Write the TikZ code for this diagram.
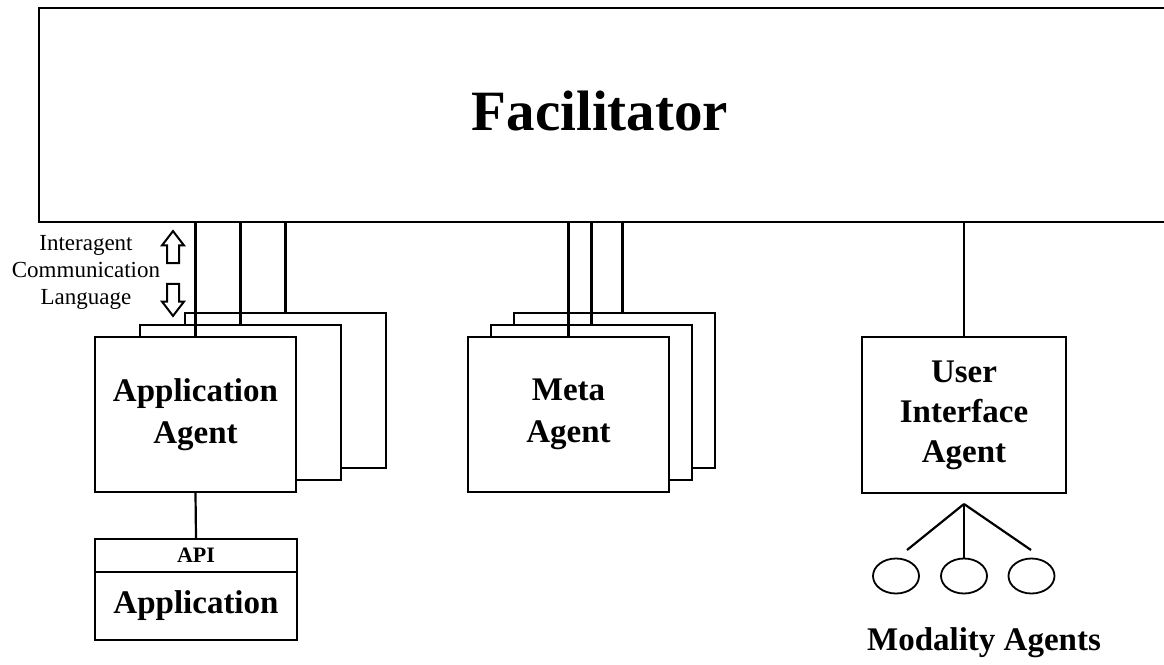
\documentclass[tikz,border=0pt]{standalone}
\usepackage{fontspec}
\setmainfont{Liberation Serif}
\usepackage{tikz}
\usetikzlibrary{shapes,shapes.arrows,backgrounds,positioning}

\tikzset{
agentbox/.style={draw, line width=2.2pt, fill=white, minimum width=201pt, minimum height=155pt, inner sep=0pt, align=center, font=\bfseries\fontsize{33}{42}\selectfont},
appbox/.style={draw, line width=2.2pt, fill=white, minimum width=202pt, inner sep=0pt},
link/.style={draw, line width=2.2pt},
modality/.style={draw, ellipse, line width=1.8pt, minimum width=46pt, minimum height=35pt, inner sep=0pt},
iclarrow/.style={draw, single arrow, line width=2pt, minimum height=32pt, inner xsep=0pt, inner ysep=5pt, single arrow head extend=5pt, single arrow tip angle=75}
}

\begin{document}
\begin{tikzpicture}[x=1pt,y=-1pt]
\useasboundingbox (0,0) rectangle (1164,664);
\node[draw, line width=2.2pt, minimum width=1150pt, minimum height=214pt, anchor=north west, inner sep=0pt] (fac) at (38,7) {};
\node[anchor=base, font=\bfseries\fontsize{57}{60}\selectfont] (factext) at (600,130) {Facilitator};
\node[align=center, inner sep=0pt, font=\fontsize{23}{27}\selectfont] (icl) at (86,272) {Interagent\\Communication\\Language};
\node[iclarrow, rotate=90] (up) at (173,251) {};
\node[iclarrow, rotate=-90] (down) at (173,296) {};
\node[agentbox] (appC) at (285.5,390.5) {};
\node[agentbox] (appB) at (240.5,402.5) {};
\node[agentbox] (appA) at (195.5,414.5) {Application\\Agent};
\node[agentbox] (metaC) at (614.5,390.5) {};
\node[agentbox] (metaB) at (591.5,402.5) {};
\node[agentbox] (metaA) at (568.5,414.5) {Meta\\Agent};
\node[agentbox, minimum width=204pt, minimum height=156pt, font=\bfseries\fontsize{33}{40}\selectfont] (ui) at (964,415) {User\\Interface\\Agent};
\node[appbox, minimum height=33pt, font=\bfseries\fontsize{22}{24}\selectfont] (api) at (196,555.5) {API};
\node[appbox, minimum height=68pt, font=\bfseries\fontsize{33}{36}\selectfont] (appl) at (196,606) {Application};
\path [link] (appA.north |- fac.south) -- (appA.north);
\path [link] (appB.north |- fac.south) -- (appB.north);
\path [link] (appC.north |- fac.south) -- (appC.north);
\path [link] (metaA.north |- fac.south) -- (metaA.north);
\path [link] (metaB.north |- fac.south) -- (metaB.north);
\path [link] ([xshift=8pt]metaC.north |- fac.south) -- ([xshift=8pt]metaC.north);
\path [link] (ui.north |- fac.south) -- (ui.north);
\path [link] (appA.south) -- (api.north);
\node[modality] (mod1) at (896,576) {};
\node[modality] (mod2) at (964,576) {};
\node[modality] (mod3) at (1031.5,576) {};
\coordinate (hub) at (964,504);
\coordinate (modL) at (907,550);
\coordinate (modR) at (1031,550);
\path [link] (hub) -- (modL);
\path [link] (hub) -- (mod2.north);
\path [link] (hub) -- (modR);
\node[anchor=base, font=\bfseries\fontsize{33}{36}\selectfont] (modtext) at (984,650) {Modality Agents};
\end{tikzpicture}
\end{document}
